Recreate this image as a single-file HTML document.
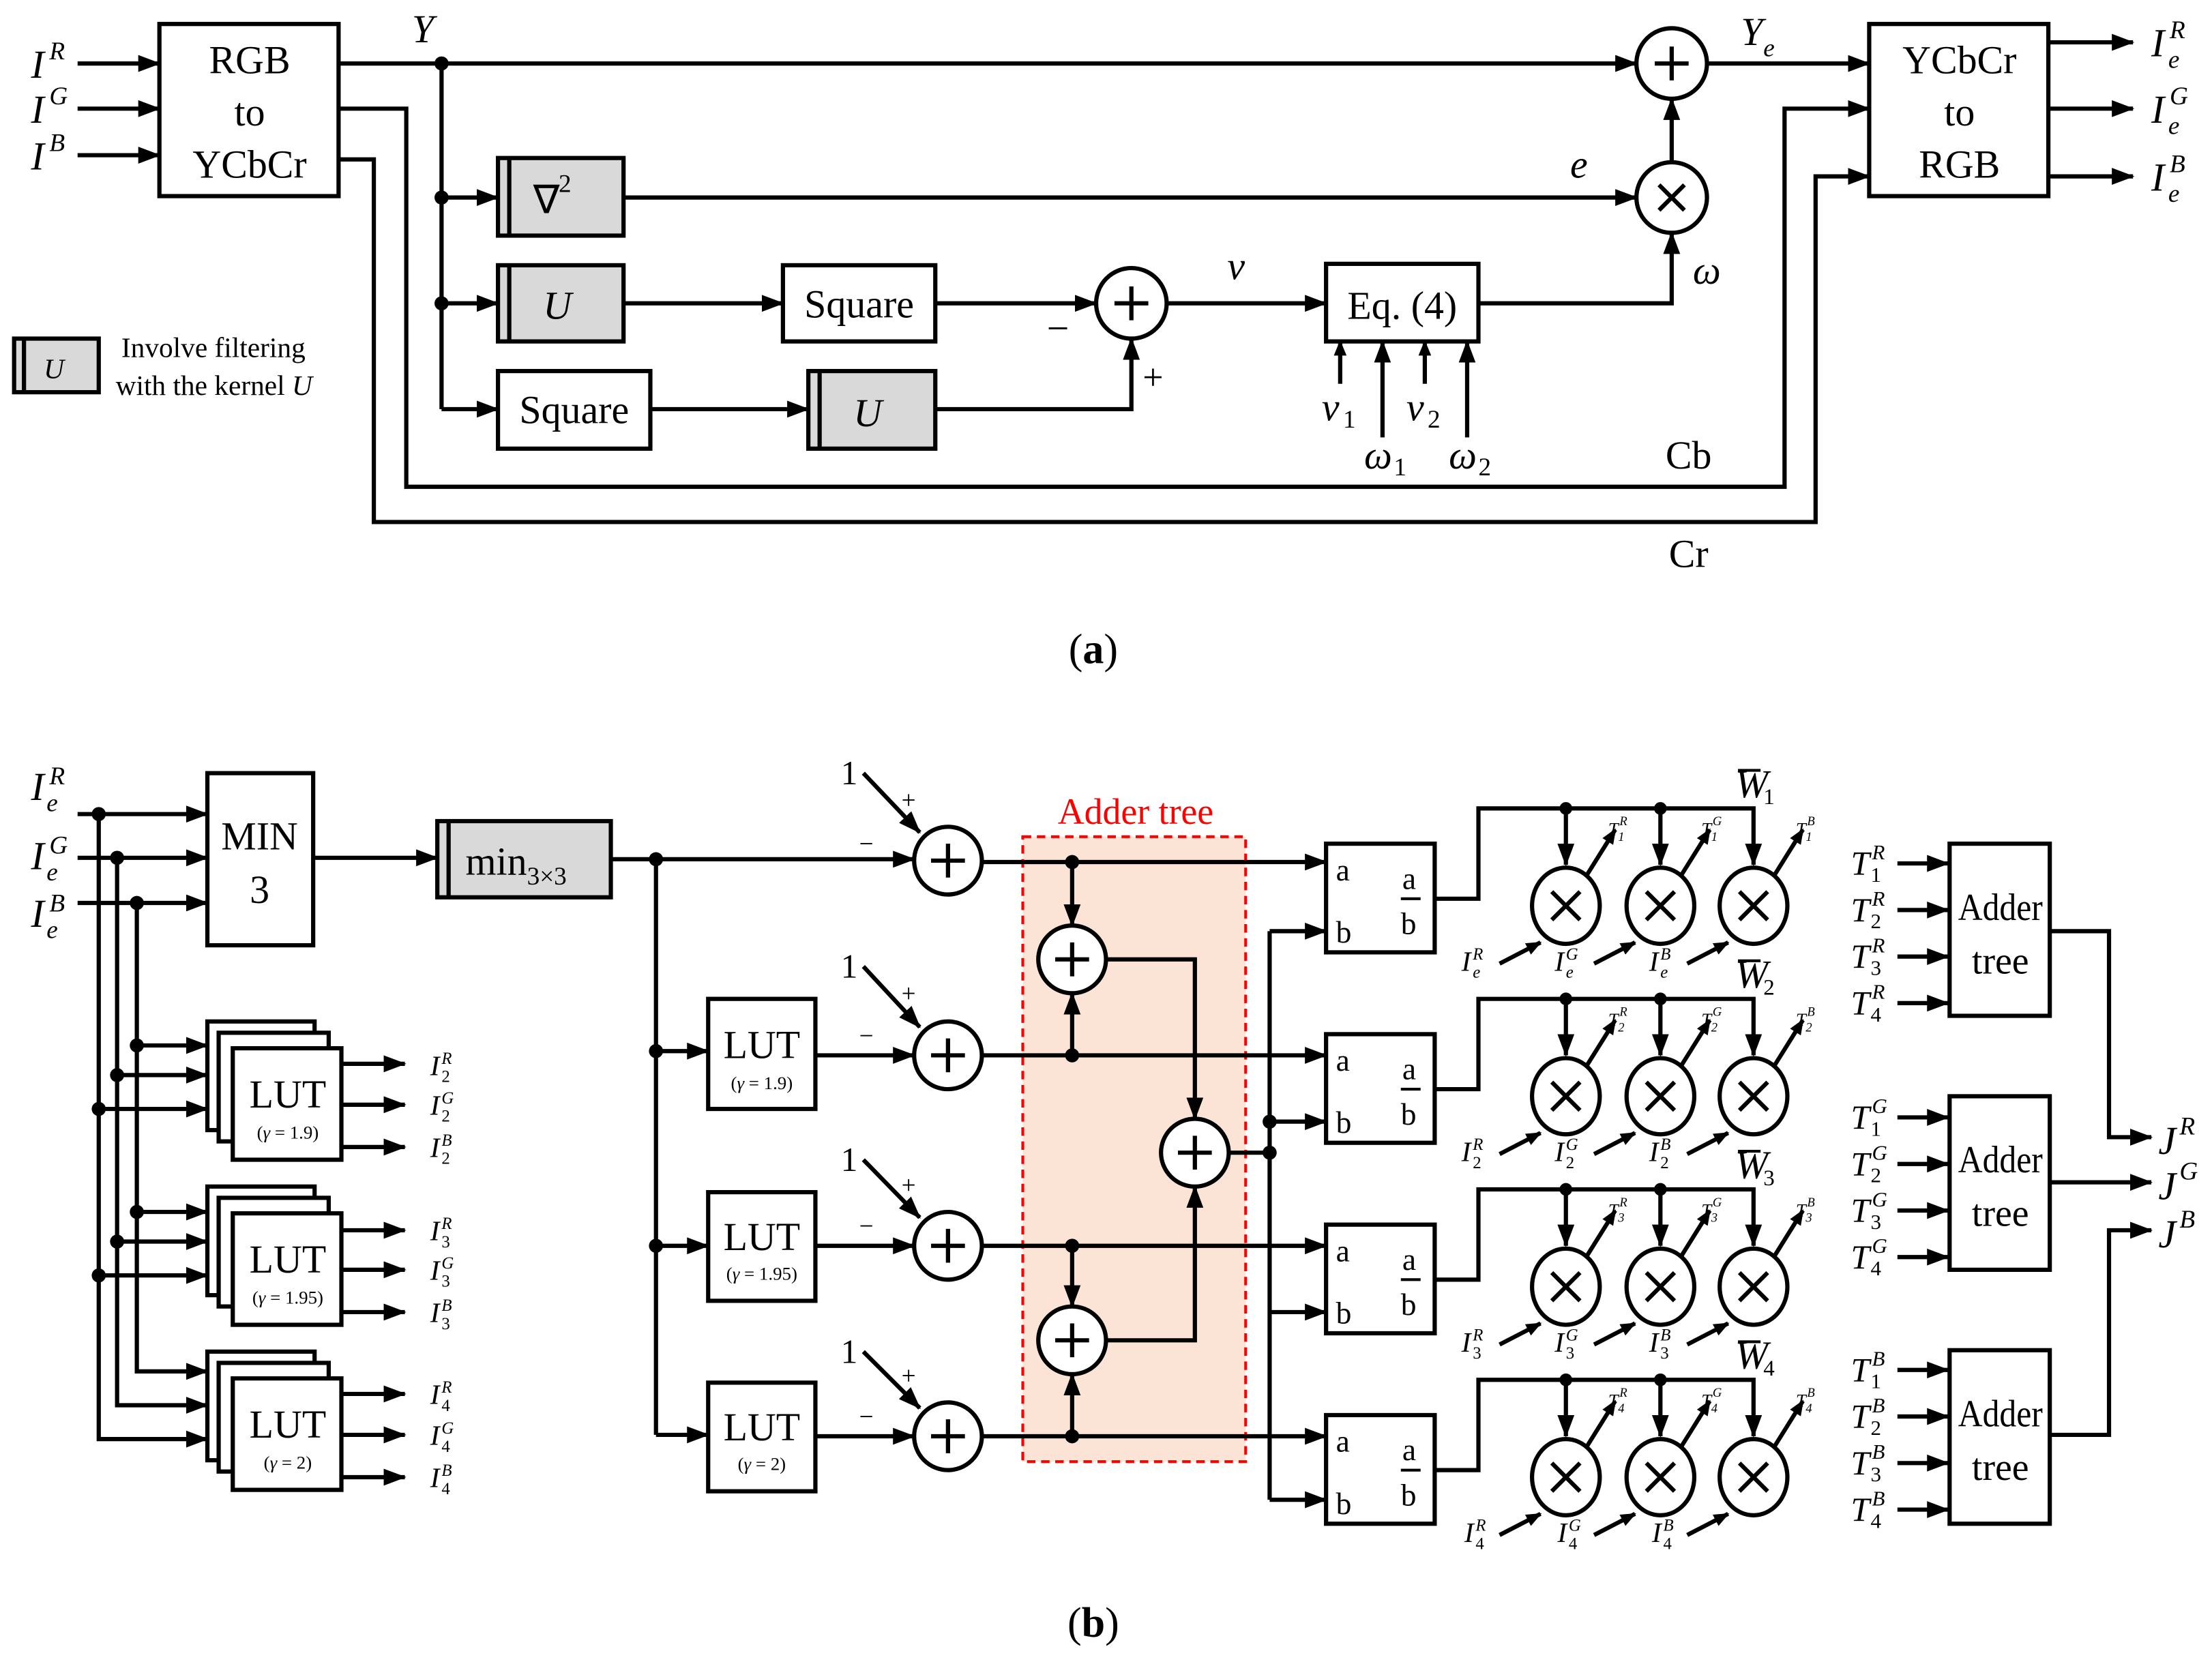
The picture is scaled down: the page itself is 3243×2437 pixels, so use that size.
<!DOCTYPE html>
<html><head><meta charset="utf-8"><style>
html,body{margin:0;padding:0;background:#fff}
svg{display:block}
text{font-family:"Liberation Serif",serif;fill:#000}
.m{font-style:italic;font-size:28px}
.s{font-style:italic;font-size:18px}
.t{font-size:28px}
.ss{font-style:italic;font-size:13px}
</style></head><body>
<svg width="3243" height="2437" viewBox="0 0 1568 1178" preserveAspectRatio="none" xmlns="http://www.w3.org/2000/svg">
<defs>
<marker id="a" markerWidth="16" markerHeight="12" refX="15" refY="6" orient="auto" markerUnits="userSpaceOnUse"><path d="M0,0 L16,6 L0,12z" fill="#000"/></marker>
<marker id="b" markerWidth="11" markerHeight="9" refX="10" refY="4.5" orient="auto" markerUnits="userSpaceOnUse"><path d="M0,0 L11,4.5 L0,9z" fill="#000"/></marker>
</defs>
<g fill="none" stroke="#000" stroke-width="3">
<line x1="55" y1="45" x2="113" y2="45" marker-end="url(#a)"/>
<line x1="55" y1="77" x2="113" y2="77" marker-end="url(#a)"/>
<line x1="55" y1="110" x2="113" y2="110" marker-end="url(#a)"/>
<rect x="113" y="17" width="127" height="122" fill="#fff"/>
<line x1="240" y1="45" x2="1160" y2="45" marker-end="url(#a)"/>
<line x1="313" y1="45" x2="313" y2="290"/>
<line x1="313" y1="140" x2="353" y2="140" marker-end="url(#a)"/>
<line x1="313" y1="215" x2="353" y2="215" marker-end="url(#a)"/>
<line x1="313" y1="290" x2="353" y2="290" marker-end="url(#a)"/>
<rect x="353" y="112" width="89" height="55" fill="#d9d9d9"/><line x1="361" y1="112" x2="361" y2="167"/>
<rect x="353" y="188" width="89" height="54" fill="#d9d9d9"/><line x1="361" y1="188" x2="361" y2="242"/>
<rect x="573" y="263" width="90" height="55" fill="#d9d9d9"/><line x1="581" y1="263" x2="581" y2="318"/>
<rect x="555" y="188" width="108" height="54" fill="#fff"/>
<rect x="353" y="263" width="108" height="55" fill="#fff"/>
<line x1="442" y1="140" x2="1160" y2="140" marker-end="url(#a)"/>
<line x1="442" y1="215" x2="555" y2="215" marker-end="url(#a)"/>
<line x1="663" y1="215" x2="777" y2="215" marker-end="url(#a)"/>
<line x1="461" y1="290" x2="573" y2="290" marker-end="url(#a)"/>
<polyline points="663,290 802,290 802,240" marker-end="url(#a)"/>
<circle cx="802" cy="215" r="25" fill="#fff"/>
<line x1="790" y1="215" x2="814" y2="215"/><line x1="802" y1="203" x2="802" y2="227"/>
<line x1="827" y1="215" x2="940" y2="215" marker-end="url(#a)"/>
<rect x="940" y="187" width="108" height="55" fill="#fff"/>
<polyline points="1048,215 1185,215 1185,165" marker-end="url(#a)"/>
<line x1="950" y1="272" x2="950" y2="242" marker-end="url(#b)"/>
<line x1="980" y1="310" x2="980" y2="242" marker-end="url(#a)"/>
<line x1="1010" y1="272" x2="1010" y2="242" marker-end="url(#b)"/>
<line x1="1040" y1="310" x2="1040" y2="242" marker-end="url(#a)"/>
<circle cx="1185" cy="140" r="25" fill="#fff"/>
<line x1="1176" y1="131" x2="1194" y2="149"/><line x1="1194" y1="131" x2="1176" y2="149"/>
<line x1="1185" y1="115" x2="1185" y2="70" marker-end="url(#a)"/>
<circle cx="1185" cy="45" r="25" fill="#fff"/>
<line x1="1173" y1="45" x2="1197" y2="45"/><line x1="1185" y1="33" x2="1185" y2="57"/>
<line x1="1210" y1="45" x2="1325" y2="45" marker-end="url(#a)"/>
<polyline points="240,77 288,77 288,345 1265,345 1265,77 1325,77" marker-end="url(#a)"/>
<polyline points="240,113 265,113 265,370 1287,370 1287,125 1325,125" marker-end="url(#a)"/>
<rect x="1325" y="17" width="127" height="122" fill="#fff"/>
<line x1="1452" y1="30" x2="1512" y2="30" marker-end="url(#a)"/>
<line x1="1452" y1="77" x2="1512" y2="77" marker-end="url(#a)"/>
<line x1="1452" y1="125" x2="1512" y2="125" marker-end="url(#a)"/>
<rect x="10" y="240" width="60" height="38" fill="#d9d9d9"/><line x1="17" y1="240" x2="17" y2="278"/>
</g>
<g fill="#000">
<circle cx="313" cy="45" r="5"/><circle cx="313" cy="140" r="5"/><circle cx="313" cy="215" r="5"/>
</g>
<text x="22" y="55" class="m">I</text><text x="35" y="42" class="s">R</text>
<text x="22" y="87" class="m">I</text><text x="35" y="74" class="s">G</text>
<text x="22" y="120" class="m">I</text><text x="35" y="107" class="s">B</text>
<g class="t" text-anchor="middle">
<text x="177" y="52">RGB</text><text x="177" y="89">to</text><text x="177" y="126">YCbCr</text>
<text x="1389" y="52">YCbCr</text><text x="1389" y="89">to</text><text x="1389" y="126">RGB</text>
<text x="609" y="225">Square</text><text x="407" y="300">Square</text>
<text x="994" y="226">Eq. (4)</text>
<text x="1197" y="332">Cb</text><text x="1197" y="402">Cr</text>
</g>
<text x="378" y="151" class="t">∇</text><text x="396" y="136" font-size="18">2</text>
<text x="385" y="226" class="m">U</text><text x="605" y="302" class="m">U</text>
<text x="31" y="268" font-style="italic" font-size="20">U</text>
<text x="86" y="253" font-size="20">Involve filtering</text>
<text x="82" y="280" font-size="20">with the kernel <tspan font-style="italic">U</tspan></text>
<text x="292" y="30" class="m">Y</text>
<text x="1234" y="32" class="m">Y</text><text x="1250" y="40" class="s">e</text>
<text x="1113" y="126" class="m">e</text>
<text x="870" y="198" class="m">v</text>
<text x="1200" y="201" class="m">ω</text>
<text x="742" y="242" font-size="28">−</text><text x="810" y="276" font-size="26">+</text>
<text x="937" y="298" class="m">v</text><text x="952" y="303" font-size="18">1</text>
<text x="997" y="298" class="m">v</text><text x="1012" y="303" font-size="18">2</text>
<text x="967" y="332" class="m">ω</text><text x="988" y="337" font-size="18">1</text>
<text x="1027" y="332" class="m">ω</text><text x="1048" y="337" font-size="18">2</text>
<text x="1525" y="40" class="m">I</text><text x="1538" y="27" class="s">R</text><text x="1537" y="48" class="s">e</text>
<text x="1525" y="87" class="m">I</text><text x="1538" y="74" class="s">G</text><text x="1537" y="95" class="s">e</text>
<text x="1525" y="135" class="m">I</text><text x="1538" y="122" class="s">B</text><text x="1537" y="143" class="s">e</text>
<text x="775" y="470" font-size="30" text-anchor="middle">(<tspan font-weight="bold">a</tspan>)</text>

<rect x="725" y="593" width="158" height="443" fill="#fbe4d5" stroke="#f00" stroke-width="2" stroke-dasharray="6,4"/>
<text x="805" y="584" font-size="26" style="fill:#f00" text-anchor="middle">Adder tree</text>
<g fill="none" stroke="#000" stroke-width="3">
<line x1="55" y1="577" x2="147" y2="577" marker-end="url(#a)"/>
<line x1="55" y1="608" x2="147" y2="608" marker-end="url(#a)"/>
<line x1="55" y1="640" x2="147" y2="640" marker-end="url(#a)"/>
<polyline points="70,577 70,1020 147,1020" marker-end="url(#a)"/>
<polyline points="83,608 83,996 147,996" marker-end="url(#a)"/>
<polyline points="97,640 97,972 147,972" marker-end="url(#a)"/>
<line x1="97" y1="741" x2="147" y2="741" marker-end="url(#a)"/>
<line x1="83" y1="762" x2="147" y2="762" marker-end="url(#a)"/>
<line x1="70" y1="786" x2="147" y2="786" marker-end="url(#a)"/>
<line x1="97" y1="859" x2="147" y2="859" marker-end="url(#a)"/>
<line x1="83" y1="880" x2="147" y2="880" marker-end="url(#a)"/>
<line x1="70" y1="904" x2="147" y2="904" marker-end="url(#a)"/>
<rect x="147" y="548" width="75" height="122" fill="#fff"/>
<line x1="222" y1="608" x2="310" y2="608" marker-end="url(#a)"/>
<rect x="310" y="582" width="123" height="54" fill="#d9d9d9"/><line x1="318" y1="582" x2="318" y2="636"/>
<line x1="433" y1="609" x2="648" y2="609" marker-end="url(#a)"/>
<line x1="465" y1="609" x2="465" y2="1017"/>
<line x1="465" y1="745" x2="502" y2="745" marker-end="url(#a)"/>
<line x1="465" y1="883" x2="502" y2="883" marker-end="url(#a)"/>
<line x1="465" y1="1017" x2="502" y2="1017" marker-end="url(#a)"/>
<rect x="502" y="708" width="76" height="78" fill="#fff"/>
<rect x="502" y="845" width="76" height="77" fill="#fff"/>
<rect x="502" y="980" width="76" height="77" fill="#fff"/>
<line x1="578" y1="748" x2="648" y2="748" marker-end="url(#a)"/>
<line x1="578" y1="883" x2="648" y2="883" marker-end="url(#a)"/>
<line x1="578" y1="1018" x2="648" y2="1018" marker-end="url(#a)"/>
<line x1="612" y1="548" x2="652" y2="590" marker-end="url(#a)"/>
<line x1="612" y1="685" x2="652" y2="728" marker-end="url(#a)"/>
<line x1="612" y1="822" x2="652" y2="863" marker-end="url(#a)"/>
<line x1="612" y1="958" x2="652" y2="998" marker-end="url(#a)"/>
<g fill="#fff">
<rect x="147" y="724" width="76" height="77"/><rect x="155" y="732" width="78" height="77"/><rect x="165" y="743" width="77" height="79"/>
<rect x="147" y="841" width="76" height="77"/><rect x="155" y="849" width="78" height="77"/><rect x="165" y="860" width="77" height="79"/>
<rect x="147" y="958" width="76" height="77"/><rect x="155" y="966" width="78" height="77"/><rect x="165" y="977" width="77" height="79"/>
</g>
<line x1="242" y1="754" x2="287" y2="754" marker-end="url(#a)"/>
<line x1="242" y1="783" x2="287" y2="783" marker-end="url(#a)"/>
<line x1="242" y1="813" x2="287" y2="813" marker-end="url(#a)"/>
<line x1="242" y1="872" x2="287" y2="872" marker-end="url(#a)"/>
<line x1="242" y1="900" x2="287" y2="900" marker-end="url(#a)"/>
<line x1="242" y1="930" x2="287" y2="930" marker-end="url(#a)"/>
<line x1="242" y1="988" x2="287" y2="988" marker-end="url(#a)"/>
<line x1="242" y1="1017" x2="287" y2="1017" marker-end="url(#a)"/>
<line x1="242" y1="1047" x2="287" y2="1047" marker-end="url(#a)"/>
<g fill="#fff">
<circle cx="672" cy="610" r="24"/><circle cx="672" cy="748" r="24"/><circle cx="672" cy="883" r="24"/><circle cx="672" cy="1018" r="24"/>
<circle cx="760" cy="680" r="24"/><circle cx="760" cy="950" r="24"/><circle cx="847" cy="817" r="24"/>
</g>
<path d="M660,610h24M672,598v24M660,748h24M672,736v24M660,883h24M672,871v24M660,1018h24M672,1006v24M748,680h24M760,668v24M748,950h24M760,938v24M835,817h24M847,805v24"/>
<line x1="696" y1="611" x2="940" y2="611" marker-end="url(#a)"/>
<line x1="696" y1="748" x2="940" y2="748" marker-end="url(#a)"/>
<line x1="696" y1="883" x2="940" y2="883" marker-end="url(#a)"/>
<line x1="696" y1="1018" x2="940" y2="1018" marker-end="url(#a)"/>
<line x1="760" y1="611" x2="760" y2="656" marker-end="url(#a)"/>
<line x1="760" y1="748" x2="760" y2="704" marker-end="url(#a)"/>
<line x1="760" y1="883" x2="760" y2="926" marker-end="url(#a)"/>
<line x1="760" y1="1018" x2="760" y2="974" marker-end="url(#a)"/>
<polyline points="784,680 847,680 847,793" marker-end="url(#a)"/>
<polyline points="784,950 847,950 847,841" marker-end="url(#a)"/>
<line x1="871" y1="817" x2="900" y2="817"/>
<line x1="900" y1="660" x2="900" y2="1063"/>
<line x1="900" y1="660" x2="940" y2="660" marker-end="url(#a)"/>
<line x1="900" y1="795" x2="940" y2="795" marker-end="url(#a)"/>
<line x1="900" y1="930" x2="940" y2="930" marker-end="url(#a)"/>
<line x1="900" y1="1063" x2="940" y2="1063" marker-end="url(#a)"/>
<rect x="1382" y="598" width="71" height="122" fill="#fff"/>
<rect x="1382" y="777" width="71" height="123" fill="#fff"/>
<rect x="1382" y="957" width="71" height="123" fill="#fff"/>
<path d="M1345,612h37M1345,645h37M1345,678h37M1345,711h37M1345,792h37M1345,825h37M1345,858h37M1345,891h37M1345,971h37M1345,1004h37M1345,1037h37M1345,1070h37"/>
<polyline points="1453,660 1495,660 1495,806 1525,806" marker-end="url(#a)"/>
<line x1="1453" y1="838" x2="1525" y2="838" marker-end="url(#a)"/>
<polyline points="1453,1017 1495,1017 1495,872 1525,872" marker-end="url(#a)"/>
</g>
<g fill="#000">
<path d="M1366,606l16,6l-16,6zM1366,639l16,6l-16,6zM1366,672l16,6l-16,6zM1366,705l16,6l-16,6zM1366,786l16,6l-16,6zM1366,819l16,6l-16,6zM1366,852l16,6l-16,6zM1366,885l16,6l-16,6zM1366,965l16,6l-16,6zM1366,998l16,6l-16,6zM1366,1031l16,6l-16,6zM1366,1064l16,6l-16,6z"/>
<circle cx="70" cy="577" r="5"/><circle cx="83" cy="608" r="5"/><circle cx="97" cy="640" r="5"/>
<circle cx="97" cy="741" r="5"/><circle cx="83" cy="762" r="5"/><circle cx="70" cy="786" r="5"/>
<circle cx="97" cy="859" r="5"/><circle cx="83" cy="880" r="5"/><circle cx="70" cy="904" r="5"/>
<circle cx="465" cy="609" r="5"/><circle cx="465" cy="745" r="5"/><circle cx="465" cy="883" r="5"/>
<circle cx="760" cy="611" r="5"/><circle cx="760" cy="748" r="5"/><circle cx="760" cy="883" r="5"/><circle cx="760" cy="1018" r="5"/>
<circle cx="900" cy="817" r="5"/><circle cx="900" cy="795" r="5"/>
</g>
<g id="r1">
<g fill="none" stroke="#000" stroke-width="3">
<rect x="940" y="598" width="77" height="77" fill="#fff"/>
<line x1="993" y1="637" x2="1007" y2="637" stroke-width="2"/>
<polyline points="1017,637 1048,637 1048,573 1243,573 1243,613" marker-end="url(#a)"/>
<line x1="1110" y1="573" x2="1110" y2="613" marker-end="url(#a)"/>
<line x1="1177" y1="573" x2="1177" y2="613" marker-end="url(#a)"/>
<ellipse cx="1110" cy="642" rx="24" ry="27" fill="#fff"/><ellipse cx="1177" cy="642" rx="24" ry="27" fill="#fff"/><ellipse cx="1243" cy="642" rx="24" ry="27" fill="#fff"/>
<path d="M1100,632l20,20M1120,632l-20,20M1167,632l20,20M1187,632l-20,20M1233,632l20,20M1253,632l-20,20"/>
<line x1="1125" y1="620" x2="1145" y2="588" marker-end="url(#b)"/>
<line x1="1192" y1="620" x2="1212" y2="588" marker-end="url(#b)"/>
<line x1="1258" y1="620" x2="1278" y2="588" marker-end="url(#b)"/>
<line x1="1063" y1="683" x2="1092" y2="668" marker-end="url(#b)"/>
<line x1="1130" y1="683" x2="1159" y2="668" marker-end="url(#b)"/>
<line x1="1196" y1="683" x2="1225" y2="668" marker-end="url(#b)"/>
</g>
<g fill="#000"><circle cx="1110" cy="573" r="4.5"/><circle cx="1177" cy="573" r="4.5"/></g>
<text x="947" y="624" font-size="22">a</text><text x="947" y="668" font-size="22">b</text>
<text x="994" y="630" font-size="22">a</text><text x="993" y="662" font-size="22">b</text>
</g>
<use href="#r1" transform="translate(0,135)"/>
<use href="#r1" transform="translate(0,270)"/>
<use href="#r1" transform="translate(0,405)"/>
<g>
<text x="1230" y="565" class="m" font-size="24">W</text><line x1="1232" y1="546" x2="1248" y2="546" stroke="#000" stroke-width="2"/><text x="1250" y="570" font-size="16">1</text>
<text x="1230" y="700" class="m" font-size="24">W</text><line x1="1232" y1="681" x2="1248" y2="681" stroke="#000" stroke-width="2"/><text x="1250" y="705" font-size="16">2</text>
<text x="1230" y="835" class="m" font-size="24">W</text><line x1="1232" y1="816" x2="1248" y2="816" stroke="#000" stroke-width="2"/><text x="1250" y="840" font-size="16">3</text>
<text x="1230" y="970" class="m" font-size="24">W</text><line x1="1232" y1="951" x2="1248" y2="951" stroke="#000" stroke-width="2"/><text x="1250" y="975" font-size="16">4</text>
</g>
<g class="ss">
<text x="1140" y="592">T</text><text x="1148" y="585" font-size="9">R</text><text x="1147" y="596" font-size="9">1</text>
<text x="1206" y="592">T</text><text x="1214" y="585" font-size="9">G</text><text x="1213" y="596" font-size="9">1</text>
<text x="1273" y="592">T</text><text x="1281" y="585" font-size="9">B</text><text x="1280" y="596" font-size="9">1</text>
<text x="1140" y="727">T</text><text x="1148" y="720" font-size="9">R</text><text x="1147" y="731" font-size="9">2</text>
<text x="1206" y="727">T</text><text x="1214" y="720" font-size="9">G</text><text x="1213" y="731" font-size="9">2</text>
<text x="1273" y="727">T</text><text x="1281" y="720" font-size="9">B</text><text x="1280" y="731" font-size="9">2</text>
<text x="1140" y="862">T</text><text x="1148" y="855" font-size="9">R</text><text x="1147" y="866" font-size="9">3</text>
<text x="1206" y="862">T</text><text x="1214" y="855" font-size="9">G</text><text x="1213" y="866" font-size="9">3</text>
<text x="1273" y="862">T</text><text x="1281" y="855" font-size="9">B</text><text x="1280" y="866" font-size="9">3</text>
<text x="1140" y="997">T</text><text x="1148" y="990" font-size="9">R</text><text x="1147" y="1001" font-size="9">4</text>
<text x="1206" y="997">T</text><text x="1214" y="990" font-size="9">G</text><text x="1213" y="1001" font-size="9">4</text>
<text x="1273" y="997">T</text><text x="1281" y="990" font-size="9">B</text><text x="1280" y="1001" font-size="9">4</text>
</g>
<g font-style="italic">
<text x="1036" y="688" font-size="20">I</text><text x="1044" y="680" font-size="12">R</text><text x="1044" y="693" font-size="12">e</text>
<text x="1102" y="688" font-size="20">I</text><text x="1110" y="680" font-size="12">G</text><text x="1110" y="693" font-size="12">e</text>
<text x="1169" y="688" font-size="20">I</text><text x="1177" y="680" font-size="12">B</text><text x="1177" y="693" font-size="12">e</text>
<text x="1036" y="823" font-size="20">I</text><text x="1044" y="815" font-size="12">R</text><text x="1044" y="828" font-size="12" font-style="normal">2</text>
<text x="1102" y="823" font-size="20">I</text><text x="1110" y="815" font-size="12">G</text><text x="1110" y="828" font-size="12" font-style="normal">2</text>
<text x="1169" y="823" font-size="20">I</text><text x="1177" y="815" font-size="12">B</text><text x="1177" y="828" font-size="12" font-style="normal">2</text>
<text x="1036" y="958" font-size="20">I</text><text x="1044" y="950" font-size="12">R</text><text x="1044" y="963" font-size="12" font-style="normal">3</text>
<text x="1102" y="958" font-size="20">I</text><text x="1110" y="950" font-size="12">G</text><text x="1110" y="963" font-size="12" font-style="normal">3</text>
<text x="1169" y="958" font-size="20">I</text><text x="1177" y="950" font-size="12">B</text><text x="1177" y="963" font-size="12" font-style="normal">3</text>
<text x="1038" y="1093" font-size="20">I</text><text x="1046" y="1085" font-size="12">R</text><text x="1046" y="1098" font-size="12" font-style="normal">4</text>
<text x="1104" y="1093" font-size="20">I</text><text x="1112" y="1085" font-size="12">G</text><text x="1112" y="1098" font-size="12" font-style="normal">4</text>
<text x="1171" y="1093" font-size="20">I</text><text x="1179" y="1085" font-size="12">B</text><text x="1179" y="1098" font-size="12" font-style="normal">4</text>
</g>
<text x="22" y="567" class="m">I</text><text x="35" y="556" class="s">R</text><text x="33" y="575" class="s">e</text>
<text x="22" y="616" class="m">I</text><text x="35" y="605" class="s">G</text><text x="33" y="624" class="s">e</text>
<text x="22" y="657" class="m">I</text><text x="35" y="646" class="s">B</text><text x="33" y="665" class="s">e</text>
<g class="t" text-anchor="middle">
<text x="184" y="602">MIN</text><text x="184" y="640">3</text>
<text x="204" y="785">LUT</text><text x="204" y="902">LUT</text><text x="204" y="1019">LUT</text>
<text x="540" y="750">LUT</text><text x="540" y="886">LUT</text><text x="540" y="1021">LUT</text>
</g>
<g font-size="27">
<text x="1388" y="652" textLength="60" lengthAdjust="spacingAndGlyphs">Adder</text><text x="1418" y="690" text-anchor="middle">tree</text>
<text x="1388" y="831" textLength="60" lengthAdjust="spacingAndGlyphs">Adder</text><text x="1418" y="869" text-anchor="middle">tree</text>
<text x="1388" y="1011" textLength="60" lengthAdjust="spacingAndGlyphs">Adder</text><text x="1418" y="1049" text-anchor="middle">tree</text>
</g>
<g font-size="13" text-anchor="middle">
<text x="204" y="807">(<tspan font-style="italic">γ</tspan> = 1.9)</text>
<text x="204" y="924">(<tspan font-style="italic">γ</tspan> = 1.95)</text>
<text x="204" y="1041">(<tspan font-style="italic">γ</tspan> = 2)</text>
<text x="540" y="772">(<tspan font-style="italic">γ</tspan> = 1.9)</text>
<text x="540" y="907">(<tspan font-style="italic">γ</tspan> = 1.95)</text>
<text x="540" y="1042">(<tspan font-style="italic">γ</tspan> = 2)</text>
</g>
<text x="330" y="620" font-size="28">min<tspan font-size="18" dy="7">3×3</tspan></text>
<g font-size="24">
<text x="596" y="556">1</text><text x="596" y="693">1</text><text x="596" y="830">1</text><text x="596" y="966">1</text>
</g>
<g font-size="18">
<text x="639" y="573">+</text><text x="609" y="604">−</text>
<text x="639" y="710">+</text><text x="609" y="740">−</text>
<text x="639" y="846">+</text><text x="609" y="875">−</text>
<text x="639" y="981">+</text><text x="609" y="1010">−</text>
</g>
<g font-style="italic">
<text x="305" y="762" font-size="20">I</text><text x="313" y="754" font-size="12">R</text><text x="313" y="767" font-size="12" font-style="normal">2</text>
<text x="305" y="790" font-size="20">I</text><text x="313" y="782" font-size="12">G</text><text x="313" y="795" font-size="12" font-style="normal">2</text>
<text x="305" y="820" font-size="20">I</text><text x="313" y="812" font-size="12">B</text><text x="313" y="825" font-size="12" font-style="normal">2</text>
<text x="305" y="879" font-size="20">I</text><text x="313" y="871" font-size="12">R</text><text x="313" y="884" font-size="12" font-style="normal">3</text>
<text x="305" y="907" font-size="20">I</text><text x="313" y="899" font-size="12">G</text><text x="313" y="912" font-size="12" font-style="normal">3</text>
<text x="305" y="937" font-size="20">I</text><text x="313" y="929" font-size="12">B</text><text x="313" y="942" font-size="12" font-style="normal">3</text>
<text x="305" y="995" font-size="20">I</text><text x="313" y="987" font-size="12">R</text><text x="313" y="1000" font-size="12" font-style="normal">4</text>
<text x="305" y="1024" font-size="20">I</text><text x="313" y="1016" font-size="12">G</text><text x="313" y="1029" font-size="12" font-style="normal">4</text>
<text x="305" y="1054" font-size="20">I</text><text x="313" y="1046" font-size="12">B</text><text x="313" y="1059" font-size="12" font-style="normal">4</text>
</g>
<g font-style="italic" font-size="24">
<text x="1312" y="620">T</text><text x="1312" y="653">T</text><text x="1312" y="686">T</text><text x="1312" y="719">T</text>
<text x="1312" y="800">T</text><text x="1312" y="833">T</text><text x="1312" y="866">T</text><text x="1312" y="899">T</text>
<text x="1312" y="979">T</text><text x="1312" y="1012">T</text><text x="1312" y="1045">T</text><text x="1312" y="1078">T</text>
</g>
<g font-size="15">
<text x="1327" y="609" font-style="italic">R</text><text x="1326" y="625">1</text>
<text x="1327" y="642" font-style="italic">R</text><text x="1326" y="658">2</text>
<text x="1327" y="675" font-style="italic">R</text><text x="1326" y="691">3</text>
<text x="1327" y="708" font-style="italic">R</text><text x="1326" y="724">4</text>
<text x="1327" y="789" font-style="italic">G</text><text x="1326" y="805">1</text>
<text x="1327" y="822" font-style="italic">G</text><text x="1326" y="838">2</text>
<text x="1327" y="855" font-style="italic">G</text><text x="1326" y="871">3</text>
<text x="1327" y="888" font-style="italic">G</text><text x="1326" y="904">4</text>
<text x="1327" y="968" font-style="italic">B</text><text x="1326" y="984">1</text>
<text x="1327" y="1001" font-style="italic">B</text><text x="1326" y="1017">2</text>
<text x="1327" y="1034" font-style="italic">B</text><text x="1326" y="1050">3</text>
<text x="1327" y="1067" font-style="italic">B</text><text x="1326" y="1083">4</text>
</g>
<g font-style="italic">
<text x="1530" y="818" font-size="28">J</text><text x="1545" y="804" font-size="18">R</text>
<text x="1530" y="850" font-size="28">J</text><text x="1545" y="836" font-size="18">G</text>
<text x="1530" y="884" font-size="28">J</text><text x="1545" y="870" font-size="18">B</text>
</g>
<text x="775" y="1160" font-size="30" text-anchor="middle">(<tspan font-weight="bold">b</tspan>)</text>
</svg>
</body></html>
